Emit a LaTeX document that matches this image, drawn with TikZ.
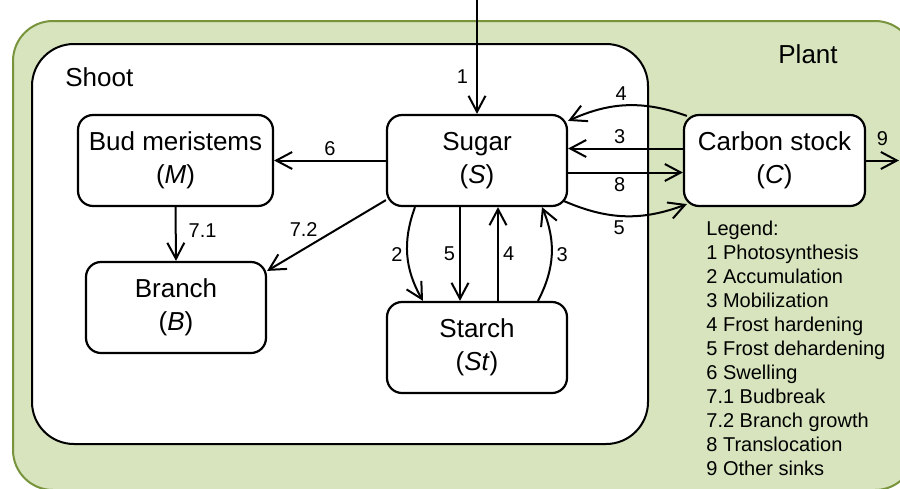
\documentclass[tikz,border=0pt]{standalone}
\usepackage{fontspec}
\setmainfont{Liberation Sans}
\usetikzlibrary{arrows.meta}

\definecolor{plantfill}{HTML}{D7E4BD}
\definecolor{plantedge}{HTML}{77933C}

\tikzset{
  pool/.style={draw, fill=white, line width=1.1pt, rounded corners=7.5pt, minimum width=90pt,
    minimum height=45.5pt, inner sep=0pt, align=center, font=\fontsize{13}{16.5}\selectfont},
  flux/.style={line width=1pt, -{Straight Barb[length=8pt,width=8.5pt]}},
  lbl/.style={font=\fontsize{10}{12}\selectfont, inner sep=2pt},
  title/.style={anchor=base west, inner sep=0pt, font=\fontsize{13}{16}\selectfont}
}

\begin{document}
\begin{tikzpicture}[x=0.5pt, y=-0.5pt]
\useasboundingbox (0,0) rectangle (900,488);
\clip (0,0) rectangle (900,488);

% plant and shoot compartments
\draw[draw=plantedge, fill=plantfill, line width=1pt, rounded corners=20pt] (13,21) rectangle (915,490);
\draw[fill=white, line width=1pt, rounded corners=21pt] (32,44) rectangle (648,444);
\node[title] (shoot) at (65,86) {Shoot};
\node[title] (plant) at (778,63) {Plant};

% pools
\node[pool, minimum width=97.5pt] (M) at (175.5,160.5) {Bud meristems\\(\textit{M})};
\node[pool] (S) at (477,160.5) {Sugar\\(\textit{S})};
\node[pool, minimum width=90.5pt] (C) at (774.5,160.5) {Carbon stock\\(\textit{C})};
\node[pool] (B) at (176,307.5) {Branch\\(\textit{B})};
\node[pool] (St) at (477,347.5) {Starch\\(\textit{St})};

% fluxes inside the shoot
\coordinate (sun) at (477,0);
\draw[flux] (sun) -- node[lbl, left=2pt, pos=0.67]{1} (S.north);
\draw[flux] (S.west) -- node[lbl, above]{6} (M.east);
\draw[flux] (M.south) -- node[lbl, right=4pt, pos=0.43]{7.1} (B.north);
\draw[flux] ([yshift=3.5pt]S.south west) -- node[lbl, above left, inner sep=1pt, pos=0.55]{7.2} ([yshift=-5pt]B.north east);

% sugar <-> starch
\draw[flux] ([xshift=-31pt]S.south) to[bend right=25] node[lbl, left]{2} ([xshift=-27pt]St.north);
\draw[flux] ([xshift=-8.5pt]S.south) -- node[lbl, left]{5} ([xshift=-8.5pt]St.north);
\draw[flux] ([xshift=10.5pt]St.north) -- node[lbl, right]{4} ([xshift=10.5pt]S.south);
\draw[flux] ([xshift=30.5pt]St.north) to[bend right=25] node[lbl, right]{3} ([xshift=32.5pt]S.south);

% sugar <-> carbon stock
\draw[flux] ([xshift=2pt,yshift=-1pt]C.north west) to[bend right=22] node[lbl, above, pos=0.55]{4} ([yshift=-3.5pt]S.north east);
\draw[flux] ([yshift=6pt]C.west) -- node[lbl, above, pos=0.55]{3} ([yshift=6pt]S.east);
\draw[flux] ([yshift=-6pt]S.east) -- node[lbl, below, pos=0.45]{8} ([yshift=-6pt]C.west);
\draw[flux] ([xshift=-2pt,yshift=3pt]S.south east) to[bend right=22] node[lbl, below, pos=0.45]{5} ([xshift=2pt,yshift=1.5pt]C.south west);
\coordinate (sink) at (899,160.5);
\draw[flux] (C.east) -- node[lbl, above=5pt]{9} (sink);

% legend
\node[anchor=north west, align=left, inner sep=0pt, font=\fontsize{10}{12}\selectfont] (legend) at (706,221)
  {Legend:\\1 Photosynthesis\\2 Accumulation\\3 Mobilization\\4 Frost hardening\\5 Frost dehardening\\6 Swelling\\7.1 Budbreak\\7.2 Branch growth\\8 Translocation\\9 Other sinks};
\end{tikzpicture}
\end{document}
